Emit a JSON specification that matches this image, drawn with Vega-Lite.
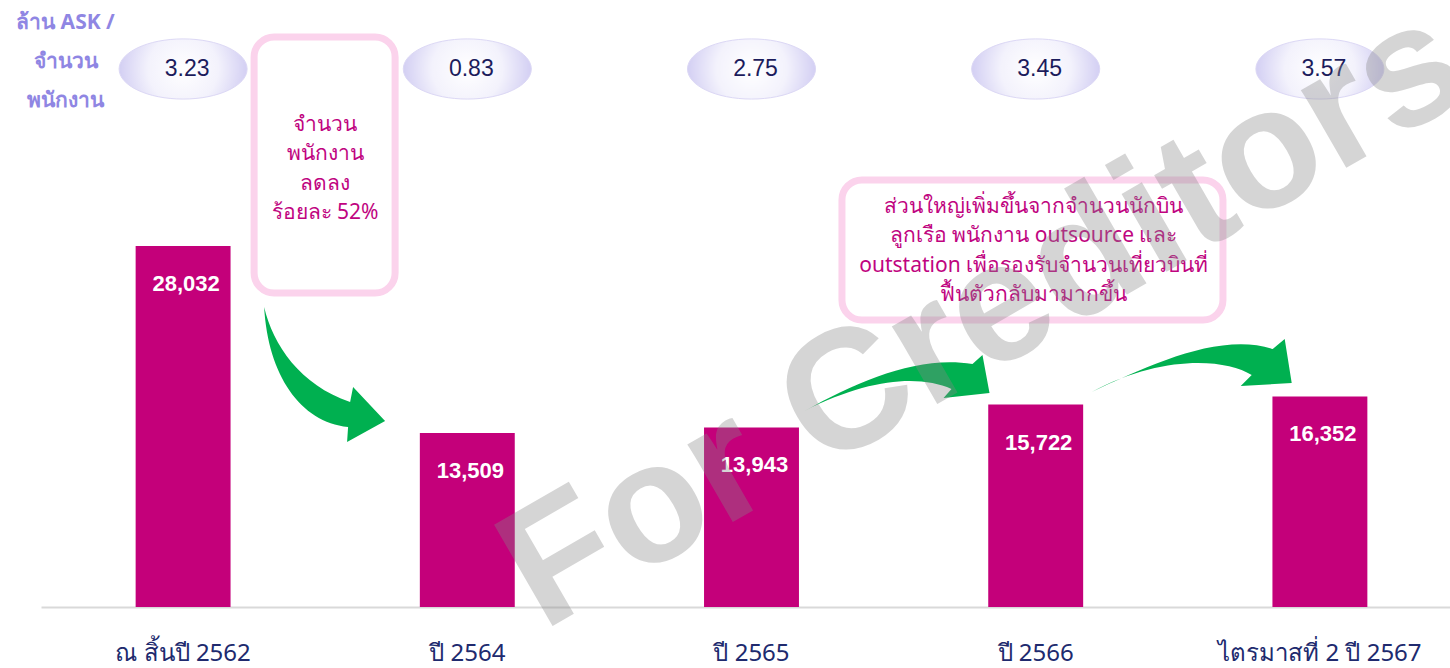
{
  "$schema": "https://vega.github.io/schema/vega-lite/v6.json",
  "width": 1450,
  "height": 607,
  "autosize": {"type": "none"},
  "padding": {"left": 0, "top": 0, "right": 0, "bottom": 61},
  "background": "white",
  "config": {"view": {"stroke": null}, "font": "Liberation Sans"},
  "data": {
    "values": [
      {"period": "ณ สิ้นปี 2562", "employees": 28032, "ask": 3.23},
      {"period": "ปี 2564", "employees": 13509, "ask": 0.83},
      {"period": "ปี 2565", "employees": 13943, "ask": 2.75},
      {"period": "ปี 2566", "employees": 15722, "ask": 3.45},
      {"period": "ไตรมาสที่ 2 ปี 2567", "employees": 16352, "ask": 3.57}
    ]
  },
  "layer": [
    {
      "mark": {"type": "bar", "color": "#c4007a"},
      "encoding": {
        "x": {
          "field": "period", "type": "nominal",
          "scale": {"domain": ["ณ สิ้นปี 2562", "ปี 2564", "ปี 2565", "ปี 2566", "ไตรมาสที่ 2 ปี 2567"], "range": [41, 1462], "paddingInner": 0.666, "paddingOuter": 0.333},
          "axis": {"title": null, "labelAngle": 0, "labelFontSize": 24, "labelColor": "#202a6e", "labelFont": "Noto Sans", "labelPadding": 46, "labelBaseline": "middle", "labelLimit": 500, "labelOverlap": false, "ticks": false, "domainColor": "#d9d9d9", "domainWidth": 2, "grid": false}
        },
        "y": {
          "field": "employees", "type": "quantitative",
          "scale": {"domain": [0, 47130], "nice": false},
          "axis": {"title": ["ล้าน ASK /", "จำนวน", "พนักงาน"], "labels": false, "ticks": false, "domain": false, "grid": false, "titleAngle": 0, "titleAlign": "center", "titleBaseline": "middle", "titleX": 65, "titleY": 22, "titleFontSize": 21, "titleFontWeight": "bold", "titleColor": "#8f86e3", "titleLineHeight": 39, "titleFont": "Noto Sans"}
        }
      }
    },
    {
      "mark": {"type": "text", "color": "white", "fontSize": 22, "fontWeight": "bold", "dy": 38, "dx": 3, "font": "Liberation Sans"},
      "encoding": {
        "x": {"field": "period", "type": "nominal"},
        "y": {"field": "employees", "type": "quantitative"},
        "text": {"field": "employees", "type": "quantitative", "format": ","}
      }
    },
    {
      "mark": {
        "type": "point",
        "shape": "M -1 0 C -1 -0.26 -0.552 -0.47 0 -0.47 C 0.552 -0.47 1 -0.26 1 0 C 1 0.26 0.552 0.47 0 0.47 C -0.552 0.47 -1 0.26 -1 0 Z",
        "size": 16384, "filled": true, "opacity": 1,
        "fill": {"gradient": "radial", "x1": 0.5, "y1": 0.5, "x2": 0.5, "y2": 0.5, "r1": 0, "r2": 0.5, "stops": [{"offset": 0, "color": "#ffffff"}, {"offset": 0.55, "color": "#f3f2fc"}, {"offset": 1, "color": "#d3cff3"}]},
        "stroke": "#dcd8f5", "strokeWidth": 1
      },
      "encoding": {
        "x": {"field": "period", "type": "nominal"},
        "y": {"datum": 41774, "type": "quantitative"}
      }
    },
    {
      "mark": {"type": "text", "fontSize": 23, "color": "#1c1c5c", "dx": 4, "font": "Liberation Sans", "baseline": "middle"},
      "encoding": {
        "x": {"field": "period", "type": "nominal"},
        "y": {"datum": 41774, "type": "quantitative"},
        "text": {"field": "ask", "type": "quantitative", "format": ".2f"}
      }
    },
    {
      "data": {"values": [{}]},
      "mark": {"type": "bar", "width": 141, "xOffset": 141.5, "fill": "white", "stroke": "#fbd3ec", "strokeWidth": 7, "cornerRadius": 20},
      "encoding": {
        "x": {"datum": "ณ สิ้นปี 2562", "type": "nominal"},
        "y": {"datum": 44258, "type": "quantitative"},
        "y2": {"datum": 24381}
      }
    },
    {
      "data": {"values": [{}]},
      "mark": {"type": "bar", "width": 381, "xOffset": -3.25, "fill": "white", "stroke": "#fbd3ec", "strokeWidth": 7, "cornerRadius": 20},
      "encoding": {
        "x": {"datum": "ปี 2566", "type": "nominal"},
        "y": {"datum": 33155, "type": "quantitative"},
        "y2": {"datum": 22284}
      }
    },
    {
      "data": {"values": [{}]},
      "mark": {"type": "text", "fontSize": 21, "color": "#c0047f", "lineHeight": 29.5, "baseline": "middle", "align": "center", "xOffset": 142, "font": "Noto Sans", "text": ["จำนวน", "พนักงาน", "ลดลง", "ร้อยละ 52%"]},
      "encoding": {
        "x": {"datum": "ณ สิ้นปี 2562", "type": "nominal"},
        "y": {"datum": 37425, "type": "quantitative"}
      }
    },
    {
      "data": {"values": [{}]},
      "mark": {"type": "text", "fontSize": 21, "color": "#c0047f", "lineHeight": 29.5, "baseline": "middle", "align": "center", "xOffset": -2, "font": "Noto Sans", "text": ["ส่วนใหญ่เพิ่มขึ้นจากจำนวนนักบิน", "ลูกเรือ พนักงาน outsource และ", "outstation เพื่อรองรับจำนวนเที่ยวบินที่", "ฟื้นตัวกลับมามากขึ้น"]},
      "encoding": {
        "x": {"datum": "ปี 2566", "type": "nominal"},
        "y": {"datum": 31058, "type": "quantitative"}
      }
    },
    {
      "data": {"values": [{}]},
      "mark": {"type": "point", "filled": true, "opacity": 1, "color": "#00b050", "size": 18225, "xOffset": 141.5,
        "shape": "M -0.896 -1 C -0.763 -0.437 -0.363 0.156 0.378 0.407 L 0.422 0.185 L 0.896 0.689 L 0.333 1 L 0.348 0.778 C -0.363 0.704 -0.837 0.007 -0.896 -1 Z"},
      "encoding": {
        "x": {"datum": "ณ สิ้นปี 2562", "type": "nominal"},
        "y": {"datum": 18053, "type": "quantitative"}
      }
    },
    {
      "data": {"values": [{}]},
      "mark": {"type": "point", "filled": true, "opacity": 1, "color": "#00b050", "size": 34225, "xOffset": 145.5,
        "shape": "M -1 0.303 C -0.405 -0.032 0.243 -0.303 0.816 -0.205 L 0.924 -0.303 L 1 0.108 L 0.503 0.162 L 0.589 0.065 C 0.243 -0.086 -0.297 -0.054 -1 0.303 Z"},
      "encoding": {
        "x": {"datum": "ปี 2565", "type": "nominal"},
        "y": {"datum": 17393, "type": "quantitative"}
      }
    },
    {
      "data": {"values": [{}]},
      "mark": {"type": "point", "filled": true, "opacity": 1, "color": "#00b050", "size": 40000, "xOffset": 156,
        "shape": "M -1 0.265 C -0.42 -0.005 0.28 -0.335 0.81 -0.165 L 0.93 -0.265 L 1 0.175 L 0.49 0.205 L 0.6 0.095 C 0.33 -0.075 -0.32 -0.105 -1 0.265 Z"},
      "encoding": {
        "x": {"datum": "ปี 2566", "type": "nominal"},
        "y": {"datum": 18752, "type": "quantitative"}
      }
    },
    {
      "data": {"values": [{}]},
      "mark": {"type": "text", "text": "For Creditors", "fontSize": 170, "fontWeight": "bold", "font": "Liberation Sans", "color": "#888888", "opacity": 0.35, "angle": -30, "align": "center", "baseline": "middle", "xOffset": 232},
      "encoding": {
        "x": {"datum": "ปี 2565", "type": "nominal"},
        "y": {"datum": 22400, "type": "quantitative"}
      }
    }
  ]
}
